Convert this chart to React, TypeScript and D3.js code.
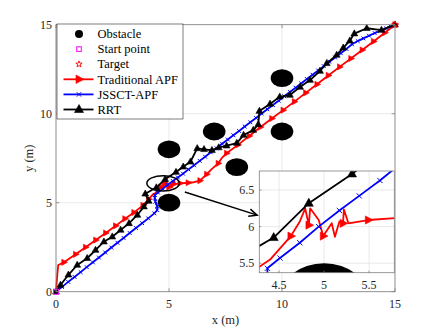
import React from 'react';
import * as d3 from 'd3';

type P = [number, number];

const xTicks = [0, 5, 10, 15];
const yTicks = [0, 5, 10, 15];
const insetXTicks = [4.5, 5, 5.5];
const insetYTicks = [5.5, 6, 6.5];

const obstacles: P[] = [[5, 5], [5, 8], [7, 9], [8, 7], [10, 9], [10, 12]];
const obstacleRadius = 0.5;
const startPoint: P = [0, 0];
const targetPoint: P = [15, 15];

const legendLabels = ['Obstacle', 'Start point', 'Target', 'Traditional APF', 'JSSCT-APF', 'RRT'];

const apfPath: P[] = [
  [0, 0], [0.03, 0.5], [0.06, 1.0], [0.1, 1.5], [0.35, 1.65], [0.87, 2.1], [1.31, 2.5],
  [1.76, 2.9], [2.2, 3.3], [2.64, 3.7], [3.05, 4.1], [3.45, 4.45], [3.85, 4.85], [4.1, 5.2],
  [4.28, 5.45], [4.4, 5.55], [4.63, 5.87], [4.73, 6.07], [4.79, 6.25], [4.83, 6.02],
  [4.845, 6.25], [4.94, 6.09], [4.99, 5.87], [5.085, 6.045], [5.12, 5.86], [5.17, 6.07],
  [5.21, 6.045], [5.22, 6.235], [5.27, 6.045], [5.49, 6.09], [5.85, 6.12], [6.1, 6.15],
  [6.37, 6.24], [6.67, 6.6], [6.9, 6.9], [7.18, 7.21], [7.33, 7.5], [7.55, 7.78],
  [8.05, 8.25], [8.55, 8.75], [9.05, 9.25], [9.55, 9.73], [10.05, 10.2], [10.55, 10.68],
  [11.05, 11.17], [11.55, 11.65], [12.05, 12.15], [12.55, 12.63], [13.05, 13.1],
  [13.55, 13.58], [14.05, 14.06], [14.55, 14.55], [15, 15],
];
const apfMarkerIdx = [4, 5, 6, 7, 8, 9, 10, 11, 12, 13, 16, 19, 22, 26, 29, 30, 32, 33, 35, 37,
  38, 39, 40, 41, 42, 43, 44, 45, 46, 47, 48, 49, 50, 51, 52];

const jssctPath: P[] = [
  [0, 0], [0.27, 0.27], [0.54, 0.55], [0.82, 0.83], [1.09, 1.1], [1.36, 1.38], [1.63, 1.65],
  [1.9, 1.92], [2.18, 2.2], [2.45, 2.48], [2.72, 2.75], [2.99, 3.02], [3.26, 3.3], [3.54, 3.58],
  [3.81, 3.85], [4.08, 4.12], [4.35, 4.4], [4.48, 4.58], [4.47, 4.82], [4.4, 5.05], [4.37, 5.27],
  [4.37, 5.43], [4.51, 5.57], [4.73, 5.78], [4.94, 6.0], [5.17, 6.22], [5.39, 6.42], [5.62, 6.63],
  [5.86, 6.87], [6.11, 7.1], [6.36, 7.35], [6.6, 7.58], [6.85, 7.83], [7.1, 8.06], [7.35, 8.31],
  [7.6, 8.55], [7.85, 8.79], [8.1, 9.03], [8.35, 9.28], [8.6, 9.52], [8.85, 9.76], [9.1, 10.01],
  [9.35, 10.25], [9.6, 10.49], [9.85, 10.73], [10.1, 10.98], [10.35, 11.22], [10.6, 11.46],
  [10.85, 11.7], [11.1, 11.95], [11.35, 12.19], [11.6, 12.43], [11.85, 12.67], [12.1, 12.92],
  [12.35, 13.16], [12.6, 13.4], [12.85, 13.64], [13.1, 13.9], [13.35, 14.08], [13.6, 14.23],
  [13.85, 14.38], [14.1, 14.53], [14.35, 14.66], [14.6, 14.79], [14.8, 14.9], [15, 15],
];

const rrtPath: P[] = [
  [0, 0], [0.2, 0.38], [0.55, 0.95], [0.94, 1.5], [1.38, 1.88], [1.75, 2.34], [2.12, 2.81],
  [2.49, 3.09], [2.86, 3.47], [3.23, 3.84], [3.6, 4.31], [3.89, 4.78], [4.1, 5.1], [3.95, 5.5],
  [4.44, 5.85], [4.83, 6.32], [5.31, 6.72], [5.63, 7.02], [5.95, 7.3], [6.25, 8.05], [6.55, 8.0],
  [6.9, 7.95], [7.2, 8.1], [7.55, 8.2], [8.0, 8.35], [8.3, 8.8], [8.73, 9.08], [8.95, 9.4],
  [9.0, 10.15], [9.47, 10.55], [9.9, 10.95], [10.35, 11.05], [10.8, 11.5], [11.24, 11.89],
  [11.68, 12.4], [11.98, 12.83], [12.42, 13.3], [12.71, 13.7], [13.0, 14.1], [13.2, 14.5],
  [13.75, 14.8], [14.4, 14.7], [15, 15],
];

const zoomEllipseCenter: P = [4.74, 6.09];
const zoomEllipseRadii: P = [0.72, 0.43];
const arrowFrom: P = [5.7, 5.6];
const arrowTo: P = [8.9, 4.3];

const insetXDomain: P = [4.28, 5.78];
const insetYDomain: P = [5.37, 6.76];

const FONT = '"Liberation Serif", "Times New Roman", serif';
const TXT = '#262626';
const AXC = '#808080';
const GRID = '#e3e3e3';

type MarkerKind = 'tri-right' | 'tri-up' | 'x' | 'square' | 'star' | 'circle';

function Marker({ kind, x, y, s, color }: { kind: MarkerKind; x: number; y: number; s: number; color: string }) {
  if (kind === 'tri-right') {
    const pts = `${x + s},${y} ${x - s * 0.6},${y - s * 0.85} ${x - s * 0.6},${y + s * 0.85}`;
    return <polygon points={pts} fill={color} stroke={color} strokeWidth={0.6} />;
  }
  if (kind === 'tri-up') {
    const pts = `${x},${y - s} ${x - s * 0.9},${y + s * 0.6} ${x + s * 0.9},${y + s * 0.6}`;
    return <polygon points={pts} fill={color} stroke={color} strokeWidth={0.6} />;
  }
  if (kind === 'x') {
    return (
      <g stroke={color} strokeWidth={1}>
        <line x1={x - s} y1={y - s} x2={x + s} y2={y + s} />
        <line x1={x - s} y1={y + s} x2={x + s} y2={y - s} />
      </g>
    );
  }
  if (kind === 'square') {
    return <rect x={x - s} y={y - s} width={2 * s} height={2 * s} fill="none" stroke={color} strokeWidth={1} />;
  }
  if (kind === 'star') {
    const pts: string[] = [];
    for (let i = 0; i < 10; i++) {
      const r = i % 2 === 0 ? s : s * 0.42;
      const a = -Math.PI / 2 + (i * Math.PI) / 5;
      pts.push(`${x + r * Math.cos(a)},${y + r * Math.sin(a)}`);
    }
    return <polygon points={pts.join(' ')} fill="none" stroke={color} strokeWidth={0.9} />;
  }
  return <circle cx={x} cy={y} r={s} fill={color} />;
}

export default function App() {
  const W = 436, H = 330;
  const x = d3.scaleLinear().domain([0, 15]).range([56, 395]);
  const y = d3.scaleLinear().domain([0, 15]).range([291.7, 24.7]);

  const ix = d3.scaleLinear().domain(insetXDomain).range([259.3, 394.3]);
  const iy = d3.scaleLinear().domain(insetYDomain).range([272.7, 171]);

  const mkLine = (sx: d3.ScaleLinear<number, number>, sy: d3.ScaleLinear<number, number>) =>
    d3.line<P>().x(d => sx(d[0])).y(d => sy(d[1]));

  const mainLine = mkLine(x, y);
  const insetLine = mkLine(ix, iy);

  const renderSeries = (
    sx: d3.ScaleLinear<number, number>, sy: d3.ScaleLinear<number, number>,
    line: d3.Line<P>, inset: boolean, prefix: string,
  ) => {
    const lw = 1.8;
    return (
      <g>
        <path d={line(apfPath) || ''} fill="none" stroke="#ff0000" strokeWidth={lw} strokeLinejoin="round" />
        {apfMarkerIdx.map(i => (
          <Marker key={`${prefix}a${i}`} kind="tri-right" x={sx(apfPath[i][0])} y={sy(apfPath[i][1])} s={inset ? 4.8 : 3.6} color="#ff0000" />
        ))}
        <path d={line(jssctPath) || ''} fill="none" stroke="#0000ff" strokeWidth={lw} strokeLinejoin="round" />
        {jssctPath.map((p, i) => (
          <Marker key={`${prefix}j${i}`} kind="x" x={sx(p[0])} y={sy(p[1])} s={inset ? 2.6 : 1.9} color="#0000ff" />
        ))}
        <path d={line(rrtPath) || ''} fill="none" stroke="#000000" strokeWidth={lw} strokeLinejoin="round" />
        {rrtPath.map((p, i) => (
          <Marker key={`${prefix}r${i}`} kind="tri-up" x={sx(p[0])} y={sy(p[1])} s={inset ? 5 : 3.8} color="#000000" />
        ))}
      </g>
    );
  };

  const [x0, x1] = x.range();
  const [y0, y1] = y.range();
  const tickLen = 3.4;

  const lgX = 57, lgY = 24, lgW = 126, lgH = 95;
  const rowY = (i: number) => lgY + 10 + i * 15.1;

  const ax1 = x(arrowFrom[0]), ay1 = y(arrowFrom[1]);
  const ax2 = x(arrowTo[0]), ay2 = y(arrowTo[1]);
  const ang = Math.atan2(ay2 - ay1, ax2 - ax1);
  const ah = 9, aw = 0.42;
  const h1 = [ax2 - ah * Math.cos(ang - aw), ay2 - ah * Math.sin(ang - aw)];
  const h2 = [ax2 - ah * Math.cos(ang + aw), ay2 - ah * Math.sin(ang + aw)];

  const [ix0, ix1] = ix.range();
  const [iy0, iy1] = iy.range();

  return (
    <svg width={W} height={H} style={{ position: 'absolute', left: 0, top: 0, background: '#fff', fontFamily: FONT }}>
      <rect x={0} y={0} width={W} height={H} fill="#fff" />
      {xTicks.map(t => (
        <line key={`gx${t}`} x1={x(t)} x2={x(t)} y1={y1} y2={y0} stroke={GRID} strokeWidth={0.8} />
      ))}
      {yTicks.map(t => (
        <line key={`gy${t}`} x1={x0} x2={x1} y1={y(t)} y2={y(t)} stroke={GRID} strokeWidth={0.8} />
      ))}
      {obstacles.map((o, i) => (
        <ellipse key={`o${i}`} cx={x(o[0])} cy={y(o[1])} rx={x(obstacleRadius) - x(0)} ry={y(0) - y(obstacleRadius)} fill="#000" />
      ))}
      {renderSeries(x, y, mainLine, false, 'm')}
      <Marker kind="square" x={x(startPoint[0])} y={y(startPoint[1])} s={2.5} color="#ff00ff" />
      <Marker kind="star" x={x(targetPoint[0])} y={y(targetPoint[1])} s={3.5} color="#ff0000" />
      <ellipse cx={x(zoomEllipseCenter[0])} cy={y(zoomEllipseCenter[1])}
        rx={x(zoomEllipseRadii[0]) - x(0)} ry={y(0) - y(zoomEllipseRadii[1])}
        fill="none" stroke="#000" strokeWidth={1.5} />
      <line x1={ax1} y1={ay1} x2={ax2} y2={ay2} stroke="#000" strokeWidth={1.5} />
      <polyline points={`${h1[0]},${h1[1]} ${ax2},${ay2} ${h2[0]},${h2[1]}`} fill="none" stroke="#000" strokeWidth={1.5} />

      <rect x={x0} y={y1} width={x1 - x0} height={y0 - y1} fill="none" stroke={AXC} strokeWidth={0.8} />
      {xTicks.map(t => (
        <g key={`tx${t}`}>
          <line x1={x(t)} x2={x(t)} y1={y0} y2={y0 - tickLen} stroke={AXC} strokeWidth={0.8} />
          <line x1={x(t)} x2={x(t)} y1={y1} y2={y1 + tickLen} stroke={AXC} strokeWidth={0.8} />
          <text x={x(t)} y={y0 + 16} textAnchor="middle" fontSize={12} fill={TXT}>{t}</text>
        </g>
      ))}
      {yTicks.map(t => (
        <g key={`ty${t}`}>
          <line x1={x0} x2={x0 + tickLen} y1={y(t)} y2={y(t)} stroke={AXC} strokeWidth={0.8} />
          <line x1={x1} x2={x1 - tickLen} y1={y(t)} y2={y(t)} stroke={AXC} strokeWidth={0.8} />
          <text x={x0 - 4} y={y(t) + 4} textAnchor="end" fontSize={12} fill={TXT}>{t}</text>
        </g>
      ))}
      <text x={(x0 + x1) / 2} y={324} textAnchor="middle" fontSize={12.5} fill={TXT}>x (m)</text>
      <text transform={`translate(33,${(y0 + y1) / 2}) rotate(-90)`} textAnchor="middle" fontSize={12.5} fill={TXT}>y (m)</text>

      <rect x={lgX} y={lgY} width={lgW} height={lgH} fill="#fff" stroke={TXT} strokeWidth={0.6} />
      {legendLabels.map((lab, i) => {
        const ry = rowY(i);
        const lx1 = 63.5, lx2 = 93.5, mx = 79;
        let sample: React.ReactNode = null;
        if (i === 0) sample = <Marker kind="circle" x={mx} y={ry} s={4} color="#000" />;
        if (i === 1) sample = <Marker kind="square" x={mx} y={ry} s={2.3} color="#ff00ff" />;
        if (i === 2) sample = <Marker kind="star" x={mx} y={ry} s={3.3} color="#ff0000" />;
        if (i === 3) sample = (<g><line x1={lx1} x2={lx2} y1={ry} y2={ry} stroke="#ff0000" strokeWidth={1.8} /><Marker kind="tri-right" x={mx} y={ry} s={5} color="#ff0000" /></g>);
        if (i === 4) sample = (<g><line x1={lx1} x2={lx2} y1={ry} y2={ry} stroke="#0000ff" strokeWidth={1.8} /><Marker kind="x" x={mx} y={ry} s={2.2} color="#0000ff" /></g>);
        if (i === 5) sample = (<g><line x1={lx1} x2={lx2} y1={ry} y2={ry} stroke="#000" strokeWidth={1.8} /><Marker kind="tri-up" x={mx} y={ry} s={5} color="#000" /></g>);
        return (
          <g key={`lg${i}`}>
            {sample}
            <text x={97.5} y={ry + 4.2} fontSize={12.5} fill="#000">{lab}</text>
          </g>
        );
      })}

      <defs>
        <clipPath id="insetClip">
          <rect x={ix0} y={iy1} width={ix1 - ix0} height={iy0 - iy1} />
        </clipPath>
      </defs>
      <rect x={ix0} y={iy1} width={ix1 - ix0} height={iy0 - iy1} fill="#fff" />
      <g clipPath="url(#insetClip)">
        {insetXTicks.map(t => (
          <line key={`igx${t}`} x1={ix(t)} x2={ix(t)} y1={iy1} y2={iy0} stroke={GRID} strokeWidth={0.8} />
        ))}
        {insetYTicks.map(t => (
          <line key={`igy${t}`} x1={ix0} x2={ix1} y1={iy(t)} y2={iy(t)} stroke={GRID} strokeWidth={0.8} />
        ))}
        {obstacles.map((o, i) => (
          <ellipse key={`io${i}`} cx={ix(o[0])} cy={iy(o[1])} rx={ix(obstacleRadius) - ix(0)} ry={iy(0) - iy(obstacleRadius)} fill="#000" />
        ))}
        {renderSeries(ix, iy, insetLine, true, 'i')}
      </g>
      <rect x={ix0} y={iy1} width={ix1 - ix0} height={iy0 - iy1} fill="none" stroke={AXC} strokeWidth={0.8} />
      {insetXTicks.map(t => (
        <g key={`itx${t}`}>
          <line x1={ix(t)} x2={ix(t)} y1={iy0} y2={iy0 - 2} stroke={AXC} strokeWidth={0.8} />
          <text x={ix(t)} y={iy0 + 16} textAnchor="middle" fontSize={12} fill={TXT}>{t}</text>
        </g>
      ))}
      {insetYTicks.map(t => (
        <g key={`ity${t}`}>
          <line x1={ix0} x2={ix0 + 2} y1={iy(t)} y2={iy(t)} stroke={AXC} strokeWidth={0.8} />
          <text x={ix0 - 5} y={iy(t) + 4} textAnchor="end" fontSize={12} fill={TXT}>{t}</text>
        </g>
      ))}
    </svg>
  );
}
